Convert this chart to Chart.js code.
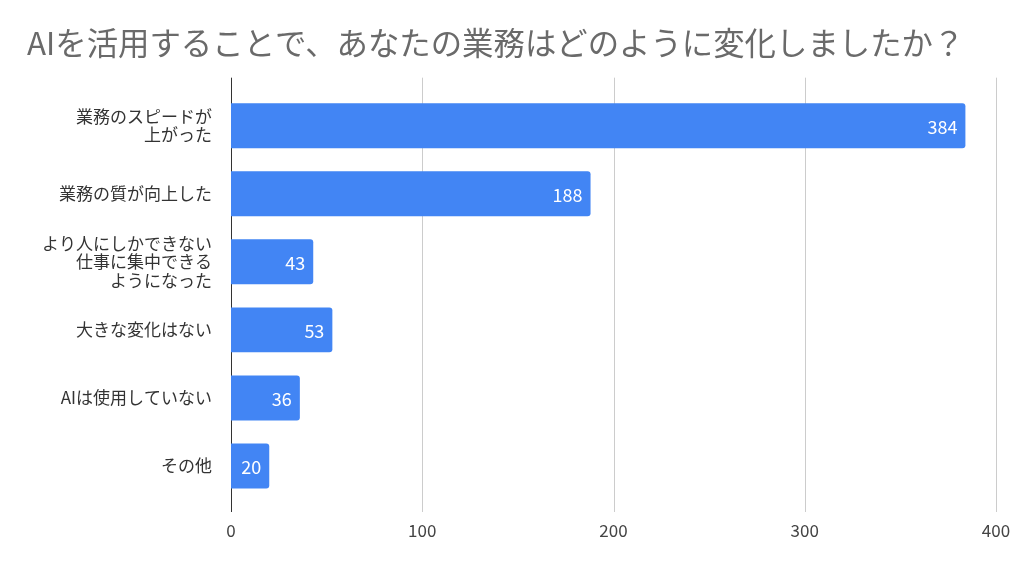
<!DOCTYPE html>
<html><head><meta charset="utf-8">
<script src="https://cdn.jsdelivr.net/npm/chart.js@4/dist/chart.umd.min.js"></script>
<style>html,body{margin:0;padding:0;background:#fff;}#wrap{width:1024px;height:567px;}</style>
</head><body><div id="wrap"><canvas id="c" width="1024" height="567"></canvas></div>
<script>
const titleText = 'AIを活用することで、あなたの業務はどのように変化しましたか？';
const categories = [
  ['業務のスピードが', '上がった'],
  '業務の質が向上した',
  ['より人にしかできない', '仕事に集中できる', 'ようになった'],
  '大きな変化はない',
  'AIは使用していない',
  'その他'
];
const values = [384, 188, 43, 53, 36, 20];
const xTicks = [0, 100, 200, 300, 400];

const FONT = '"Noto Sans CJK JP", "Noto Sans", sans-serif';

const gridPlugin = {
  id: 'gridExt',
  beforeDatasetsDraw(chart) {
    const {ctx, chartArea, scales} = chart;
    ctx.save();
    xTicks.forEach(v => {
      const x = Math.round(scales.x.getPixelForValue(v)) + 0.5;
      ctx.beginPath();
      ctx.strokeStyle = v === 0 ? '#333333' : '#cccccc';
      ctx.lineWidth = 1;
      ctx.moveTo(x, chartArea.top - 14);
      ctx.lineTo(x, chartArea.bottom + 12);
      ctx.stroke();
    });
    ctx.restore();
  }
};

const labelPlugin = {
  id: 'valLabels',
  afterDatasetsDraw(chart) {
    const {ctx} = chart;
    const meta = chart.getDatasetMeta(0);
    ctx.save();
    ctx.font = '18px ' + FONT;
    ctx.fillStyle = '#ffffff';
    ctx.textAlign = 'right';
    ctx.textBaseline = 'middle';
    meta.data.forEach((bar, i) => {
      ctx.fillText(String(values[i]), bar.x - 8, bar.y + 1);
    });
    ctx.restore();
  }
};

new Chart(document.getElementById('c'), {
  type: 'bar',
  data: {
    labels: categories,
    datasets: [{
      data: values,
      backgroundColor: '#4285F4',
      borderRadius: 3,
      borderSkipped: 'start',
      barPercentage: 0.66,
      categoryPercentage: 1
    }]
  },
  options: {
    indexAxis: 'y',
    responsive: false,
    animation: false,
    layout: {padding: {left: 27, right: 28, top: 24, bottom: 0}},
    plugins: {
      legend: {display: false},
      tooltip: {enabled: false},
      title: {
        display: true,
        text: titleText,
        align: 'start',
        color: '#6a6a6a',
        font: {family: FONT, size: 31.4, weight: 'normal', lineHeight: 1.2},
        padding: {top: 0, bottom: 30}
      }
    },
    scales: {
      x: {
        min: 0, max: 400,
        grid: {display: false},
        border: {display: false},
        afterBuildTicks(s) { s.ticks = xTicks.map(v => ({value: v})); },
        afterFit(s) { s.height = 67; },
        ticks: {
          color: '#444444',
          padding: 12,
          font: {family: FONT, size: 17}
        }
      },
      y: {
        grid: {display: false},
        border: {display: false},
        afterFit(s) { s.width = 204; },
        ticks: {
          color: '#333333',
          padding: 11,
          font: {family: FONT, size: 17, lineHeight: 1.08}
        }
      }
    }
  },
  plugins: [gridPlugin, labelPlugin]
});
</script>
</body></html>
